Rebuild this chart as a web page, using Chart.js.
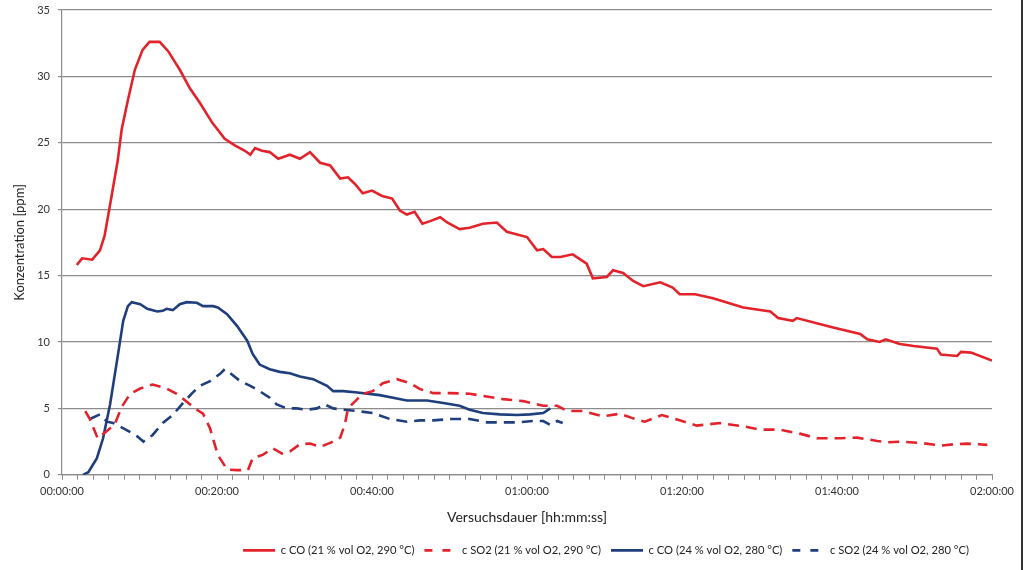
<!DOCTYPE html>
<html>
<head>
<meta charset="utf-8">
<script src="https://cdn.jsdelivr.net/npm/chart.js@4/dist/chart.umd.min.js"></script>
<style>
  html, body { margin: 0; padding: 0; background: #fff; }
  #wrap { position: relative; width: 1024px; height: 570px; }
  #frame { position: absolute; left: 1021px; top: 0; width: 2px; height: 570px; background: #333; }
</style>
</head>
<body>
<div id="wrap">
  <canvas id="chart" width="1024" height="570"></canvas>
  <div id="frame"></div>
</div>
<script>
// ===== DATA (time in minutes, concentration in ppm) =====
const xTicks = [0, 20, 40, 60, 80, 100, 120];

const coRedT = [1.9, 2.6, 3.9, 4.9, 5.5, 6.4, 7.2, 7.7, 8.5, 9.4, 10.4, 11.3, 12.6, 13.7, 15.2, 16.5, 17.8, 19.4, 21, 22.3,
  23.6, 24.3, 24.9, 25.8, 26.8, 27.9, 29.4, 30.7, 32, 33.3, 34.6, 35.9, 36.9, 37.8, 38.8, 40, 41.3, 42.6, 43.6, 44.5,
  45.5, 46.5, 47.5, 48.8, 49.7, 51.3, 52.6, 54.3, 56.1, 57.4, 60, 61.3, 62.1, 63.2, 64.3, 65.9, 67.7, 68.5, 70.3, 71.1,
  72.4, 73.7, 75, 77.2, 78.8, 79.7, 81.7, 84, 87.9, 91.4, 92.4, 94.3, 94.8, 99.5, 103, 103.9, 105.5, 106.3, 108.1, 109.9,
  112.9, 113.4, 115.5, 116, 117.3, 120];
const coRedV = [15.8, 16.3, 16.2, 16.9, 18, 21, 23.7, 26, 28.2, 30.5, 32, 32.6, 32.6, 31.9, 30.5, 29.1, 28, 26.5, 25.3, 24.8,
  24.4, 24.1, 24.6, 24.4, 24.3, 23.8, 24.1, 23.8, 24.3, 23.5, 23.3, 22.3, 22.4, 21.9, 21.2, 21.4, 21, 20.8, 19.9, 19.6,
  19.8, 18.9, 19.1, 19.4, 19, 18.5, 18.6, 18.9, 19, 18.3, 17.9, 16.9, 17, 16.4, 16.4, 16.6, 15.9, 14.8, 14.9, 15.4,
  15.2, 14.6, 14.2, 14.5, 14.1, 13.6, 13.6, 13.3, 12.6, 12.3, 11.8, 11.6, 11.8, 11.1, 10.6, 10.2, 10, 10.2, 9.85, 9.7,
  9.5, 9.05, 8.95, 9.25, 9.2, 8.6];

const so2RedT = [3, 3.6, 4.6, 5.8, 6.8, 7.7, 8.8, 10.1, 11.7, 13.5, 14.8, 16.1, 17.4, 18.2, 19.1, 20.1, 21.3, 22.6, 24, 24.6,
  25.9, 27.2, 28.4, 29.4, 30.7, 32, 33.3, 34.6, 35.9, 36.5, 36.9, 38.1, 38.8, 40.1, 41.4, 43.2, 44.9, 46.2, 47.9, 50.1,
  52.6, 54.8, 56.9, 59.5, 62.1, 63.9, 65.2, 67.2, 69.8, 72, 73.7, 75.2, 77.4, 79.7, 81.9, 84.9, 87.9, 90.1, 92.6, 95.2,
  97.4, 100.4, 102.6, 105.2, 106.5, 108.3, 110.8, 113.4, 115.1, 116.8, 119.4];
const so2RedV = [4.8, 4.2, 2.75, 3.3, 3.8, 5.1, 6.1, 6.5, 6.8, 6.5, 6.1, 5.5, 4.9, 4.6, 3.5, 1.5, 0.4, 0.35, 0.35, 1.25,
  1.5, 2.0, 1.6, 1.75, 2.3, 2.35, 2.1, 2.4, 2.8, 3.8, 5.0, 5.7, 6.1, 6.3, 6.9, 7.2, 6.9, 6.45, 6.15, 6.15,
  6.1, 5.9, 5.7, 5.55, 5.2, 5.2, 4.8, 4.8, 4.4, 4.6, 4.25, 4.0, 4.5, 4.1, 3.7, 3.9, 3.65, 3.4, 3.4, 3.1,
  2.75, 2.75, 2.8, 2.55, 2.45, 2.5, 2.4, 2.2, 2.3, 2.35, 2.25];

const coBlueT = [2.7, 3.4, 4.5, 5.3, 6.2, 7.1, 7.9, 8.5, 9, 10.1, 11, 12.3, 13, 13.5, 14.3, 15.2, 16.1, 17.4, 18.2, 19.5,
  20.1, 21.3, 22.6, 23.9, 24.6, 25.5, 26.8, 28.1, 29.4, 30.7, 32.4, 34.2, 35, 36.3, 38.1, 41, 43.2, 44.5, 47.1, 49.2,
  51.3, 52.6, 54.3, 56.5, 58.7, 60.4, 62.1, 63];
const coBlueV = [0, 0.2, 1.25, 2.75, 5.3, 8.6, 11.6, 12.7, 13, 12.85, 12.5, 12.3, 12.35, 12.5, 12.4, 12.85, 13, 12.95, 12.7, 12.7,
  12.6, 12.1, 11.2, 10.1, 9.1, 8.3, 7.95, 7.75, 7.65, 7.4, 7.2, 6.7, 6.3, 6.3, 6.2, 6.0, 5.75, 5.6, 5.6, 5.4,
  5.2, 4.9, 4.65, 4.55, 4.5, 4.55, 4.65, 5.0];

const so2BlueT = [3.6, 4.9, 5.8, 6.6, 8.4, 9.7, 10.5, 11.7, 13, 14.3, 15.6, 16.8, 17.8, 19.1, 20.4, 21, 21.7, 23, 24.3, 25.5,
  26.8, 27.7, 29, 30.3, 31.6, 32.9, 33.9, 35, 36.3, 38.1, 40.1, 42.3, 44.5, 46.2, 47.9, 50.1, 52.6, 54.8, 56.9, 58.7,
  60.8, 62.1, 63, 63.9, 64.6];
const so2BlueV = [4.2, 4.55, 4.0, 3.9, 3.35, 2.9, 2.5, 3.0, 3.9, 4.5, 5.4, 6.15, 6.7, 7.05, 7.6, 7.95, 7.65, 7.05, 6.7, 6.3,
  5.8, 5.3, 5.0, 5.0, 4.9, 5.0, 5.3, 5.0, 4.9, 4.8, 4.65, 4.2, 4.0, 4.1, 4.1, 4.2, 4.2, 3.95, 3.95, 3.95,
  4.05, 4.05, 3.75, 4.05, 3.9];

const seriesLabels = [
  "c CO (21 % vol O2, 290 °C)",
  "c SO2 (21 % vol O2, 290 °C)",
  "c CO (24 % vol O2, 280 °C)",
  "c SO2 (24 % vol O2, 280 °C)"
];

// ===== HELPERS =====
const RED = "#e3232b";
const BLUE = "#1f3e7c";
const GRID = "#8c8c8c";

function toPoints(ts, vs) {
  return ts.map((t, i) => ({ x: t, y: vs[i] }));
}

function fmtTime(min) {
  const h = Math.floor(min / 60);
  const m = min % 60;
  return String(h).padStart(2, "0") + ":" + String(m).padStart(2, "0") + ":00";
}

function lineSet(label, pts, color, dashed) {
  return {
    label: label,
    data: pts,
    borderColor: color,
    backgroundColor: color,
    borderWidth: 2.6,
    borderDash: dashed ? [11, 7] : [],
    pointRadius: 0,
    pointStyle: "line",
    tension: 0,
    fill: false
  };
}

// legend items: line samples with the dataset's dash
function legendLabels(chart) {
  return chart.data.datasets.map((ds, i) => ({
    text: ds.label,
    datasetIndex: i,
    strokeStyle: ds.borderColor,
    fillStyle: ds.borderColor,
    fontColor: "#222",
    lineWidth: 2.6,
    lineDash: ds.borderDash.length ? [8, 10] : [],
    pointStyle: "line",
    hidden: false
  }));
}

// shift the legend to the right like the original
const legendShift = {
  id: "legendShift",
  afterLayout(chart) {
    const lg = chart.legend;
    if (lg) {
      lg.left += 110;
      lg.right += 110;
    }
  }
};

// ===== CHART =====
Chart.defaults.font.family = "Lato, 'Noto Sans', sans-serif";
Chart.defaults.color = "#333";

new Chart(document.getElementById("chart"), {
  type: "line",
  data: {
    datasets: [
      lineSet(seriesLabels[0], toPoints(coRedT, coRedV), RED, false),
      lineSet(seriesLabels[1], toPoints(so2RedT, so2RedV), RED, true),
      lineSet(seriesLabels[2], toPoints(coBlueT, coBlueV), BLUE, false),
      lineSet(seriesLabels[3], toPoints(so2BlueT, so2BlueV), BLUE, true)
    ]
  },
  options: {
    responsive: false,
    animation: false,
    layout: { padding: { top: 10, right: 32, left: 0, bottom: 4 } },
    plugins: {
      tooltip: { enabled: false },
      legend: {
        position: "bottom",
        labels: {
          usePointStyle: true,
          pointStyleWidth: 32,
          boxHeight: 10,
          padding: 10,
          font: { size: 11.2 },
          color: "#222",
          generateLabels: legendLabels
        }
      }
    },
    scales: {
      x: {
        type: "linear",
        min: 0,
        max: 120,
        afterFit: s => { s.height = 60; },
        ticks: {
          stepSize: 2,
          autoSkip: false,
          maxRotation: 0,
          padding: 5,
          font: { size: 11 },
          color: "#333",
          callback: v => (xTicks.includes(v) ? fmtTime(v) : "")
        },
        grid: { drawOnChartArea: false, drawTicks: true, tickLength: 5, color: GRID, lineWidth: 1 },
        border: { color: GRID, width: 1.2 },
        title: {
          display: true,
          text: "Versuchsdauer [hh:mm:ss]",
          font: { size: 14 },
          color: "#222",
          padding: { top: 0, bottom: 9 }
        }
      },
      y: {
        min: 0,
        max: 35,
        afterFit: s => { s.width = 62; s.paddingTop = 0; s.paddingBottom = 0; },
        ticks: { stepSize: 5, padding: 8, font: { size: 11 }, color: "#333" },
        grid: { color: GRID, lineWidth: 1.2, tickLength: 4 },
        border: { color: GRID, width: 1.2 },
        title: {
          display: true,
          text: "Konzentration [ppm]",
          font: { size: 13 },
          color: "#222",
          padding: { top: 12, bottom: 0 }
        }
      }
    }
  },
  plugins: [legendShift]
});
</script>
</body>
</html>
